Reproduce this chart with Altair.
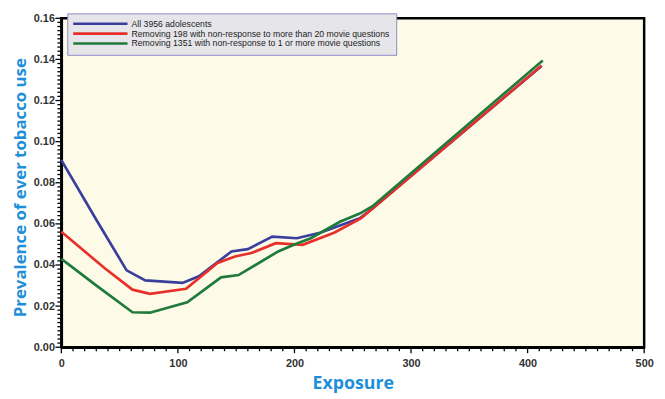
import altair as alt
import pandas as pd

series_names = [
    "All 3956 adolescents",
    "Removing 198 with non-response to more than 20 movie questions",
    "Removing 1351 with non-response to 1 or more movie questions",
]
series_colors = ["#3a3f9e", "#e8302a", "#1f7a3c"]

blue_x = [0, 30, 56, 72, 104, 118, 146, 160, 181, 202, 222, 256, 267, 412]
blue_y = [0.091, 0.062, 0.0374, 0.0325, 0.0313, 0.0345, 0.0466, 0.0477, 0.0538, 0.053, 0.0557, 0.0627, 0.0675, 0.1368]

red_x = [0, 37, 61, 76, 107, 134, 149, 163, 184, 207, 234, 257, 412]
red_y = [0.0562, 0.0385, 0.028, 0.026, 0.0284, 0.041, 0.0441, 0.0458, 0.0506, 0.0498, 0.0557, 0.0627, 0.137]

green_x = [0, 31, 61, 76, 108, 137, 152, 186, 201, 214, 239, 256, 267, 413]
green_y = [0.043, 0.0296, 0.017, 0.0168, 0.0219, 0.034, 0.0351, 0.0466, 0.0502, 0.053, 0.061, 0.065, 0.0686, 0.1395]

# axis tick positions (major every 100 / 0.02, minor every 10 / 0.002)
x_ticks = list(range(0, 501, 10))
y_ticks = [round(i * 0.002, 3) for i in range(0, 81)]

rows = []
for name, xs, ys in zip(series_names, [blue_x, red_x, green_x], [blue_y, red_y, green_y]):
    for i, (xv, yv) in enumerate(zip(xs, ys)):
        rows.append({"series": name, "exposure": xv, "prev": yv, "order": i})
df = pd.DataFrame(rows)

x_tick_df = pd.DataFrame({"tick": x_ticks,
                          "major": [abs(t / 100 - round(t / 100)) < 1e-6 for t in x_ticks]})
y_tick_df = pd.DataFrame({"tick": y_ticks,
                          "major": [abs(t * 50 - round(t * 50)) < 1e-6 for t in y_ticks]})

title_color = "#1e8fd8"
label_font = "Liberation Sans"
PLOT_W, PLOT_H = 590, 333
X_TITLE = "Exposure"
Y_TITLE = "Prevalence of ever tobacco use"

x_major_test = "abs(datum.value / 100 - round(datum.value / 100)) < 1e-6"
y_major_test = "abs(datum.value * 50 - round(datum.value * 50)) < 1e-6"

xscale = alt.Scale(domain=[0, 500], nice=False, zero=False)
yscale = alt.Scale(domain=[0, 0.16], nice=False)

x_axis = alt.Axis(orient="bottom", values=x_ticks, title=X_TITLE, grid=False,
                  labelExpr=f"{x_major_test} ? format(datum.value, 'd') : ''",
                  labelOverlap=False, labelFlush=False,
                  labelFont=label_font, labelFontWeight="bold", labelFontSize=11,
                  labelColor="#333333", ticks=False,
                  domainColor="#000000", domainWidth=2.5, labelPadding=11,
                  titleFont="Open Sans", titleFontWeight="bold", titleFontSize=18,
                  titleColor=title_color, titlePadding=6)
y_axis = alt.Axis(orient="left", values=y_ticks, title=Y_TITLE,
                  labelExpr=f"{y_major_test} ? format(datum.value, '.2f') : ''",
                  labelOverlap=False, labelFlush=False,
                  grid=False, labelFont=label_font, labelFontWeight="bold",
                  labelFontSize=11, labelColor="#333333", ticks=False,
                  domainColor="#000000", domainWidth=2.5, labelPadding=7,
                  titleFont="Open Sans", titleFontWeight="bold", titleFontSize=17,
                  titleColor=title_color, titleX=-32, titleY=171)

main = alt.Chart(df).mark_line(strokeWidth=2.7).encode(
    x=alt.X("exposure:Q", scale=xscale, axis=x_axis, title=X_TITLE),
    y=alt.Y("prev:Q", scale=yscale, axis=y_axis, title=Y_TITLE),
    color=alt.Color("series:N", sort=series_names,
                    scale=alt.Scale(domain=series_names, range=series_colors),
                    legend=alt.Legend(title=None, orient="none", legendX=6, legendY=-5,
                                      symbolType="M-10,0H10", symbolSize=30.25,
                                      symbolStrokeWidth=2.6, symbolOffset=23,
                                      labelFont=label_font, labelLimit=500,
                                      labelFontSize=8.8, labelColor="#222222",
                                      fillColor="#e6e6ea", strokeColor="#8f89c8",
                                      padding=6, rowPadding=-1.5, labelOffset=27)),
    order="order:Q",
)

tick_style = dict(color="#000000", strokeWidth=1.3)

x_major_ticks = alt.Chart(x_tick_df).transform_filter("datum.major").mark_rule(**tick_style).encode(
    x=alt.X("tick:Q", scale=xscale, axis=x_axis, title=X_TITLE),
    y=alt.value(PLOT_H + 1), y2=alt.value(PLOT_H + 6),
)
x_minor_ticks = alt.Chart(x_tick_df).transform_filter("!datum.major").mark_rule(**tick_style).encode(
    x=alt.X("tick:Q", scale=xscale, axis=x_axis, title=X_TITLE),
    y=alt.value(PLOT_H + 1), y2=alt.value(PLOT_H + 4),
)
y_major_ticks = alt.Chart(y_tick_df).transform_filter("datum.major").mark_rule(**tick_style).encode(
    y=alt.Y("tick:Q", scale=yscale, axis=y_axis, title=Y_TITLE),
    x=alt.value(-1), x2=alt.value(-6),
)
y_minor_ticks = alt.Chart(y_tick_df).transform_filter("!datum.major").mark_rule(**tick_style).encode(
    y=alt.Y("tick:Q", scale=yscale, axis=y_axis, title=Y_TITLE),
    x=alt.value(-1), x2=alt.value(-4),
)

chart = alt.layer(main, x_major_ticks, x_minor_ticks, y_major_ticks, y_minor_ticks).properties(
    width=PLOT_W, height=PLOT_H,
    autosize=alt.AutoSizeParams(type="none"),
    padding={"left": 54, "top": 8, "right": 13, "bottom": 50},
    background="#ffffff",
).configure_view(
    fill="#fdfbe8", stroke="#000000", strokeWidth=2.5
)

chart.save("out.html", embed_options={"renderer": "svg", "actions": False})
